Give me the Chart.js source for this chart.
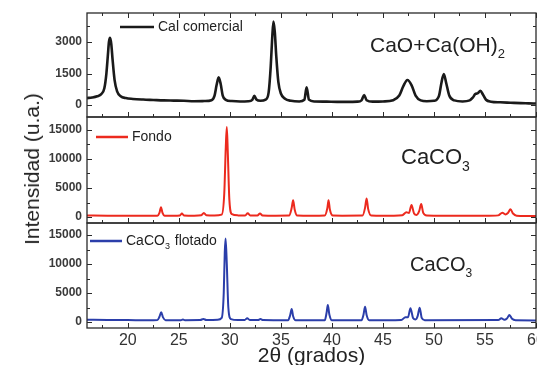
<!DOCTYPE html>
<html>
<head>
<meta charset="utf-8">
<script src="https://cdn.jsdelivr.net/npm/chart.js@4.4.1/dist/chart.umd.min.js"></script>
<style>
  html, body { margin: 0; padding: 0; background: #fff; }
  #wrap { position: relative; width: 537px; height: 365px; overflow: hidden; font-family: Arial, "Liberation Sans", sans-serif; }
  canvas { position: absolute; left: 0; }
  #ytitle { position: absolute; left: 32px; top: 169px; transform: translate(-50%, -50%) rotate(-90deg); font-size: 21px; color: #222; white-space: nowrap; }
</style>
</head>
<body>
<div id="wrap">
  <canvas id="c1" width="537" height="125" style="top:0px"></canvas>
  <canvas id="c2" width="537" height="120" style="top:110px"></canvas>
  <canvas id="c3" width="537" height="149" style="top:216px"></canvas>
  <div id="ytitle">Intensidad (u.a.)</div>
</div>
<script>
// 2θ (grados) vs intensidad, tres difractogramas
const calX = [16, 16.5, 17, 17.4, 17.7, 17.9, 18.05, 18.15, 18.26, 18.38, 18.5, 18.7, 18.95, 19.3, 19.8, 20.5, 21.5, 22.5, 23.5, 24.5, 25.5, 26.5, 27.5, 28.2, 28.5, 28.7, 28.9, 29.1, 29.3, 29.6, 30.2, 31, 31.8, 32.2, 32.4, 32.6, 33, 33.5, 33.8, 34.0, 34.15, 34.27, 34.4, 34.55, 34.75, 35.0, 35.4, 36, 36.8, 37.3, 37.52, 37.75, 38.3, 39.5, 40.5, 41.5, 42.5, 42.9, 43.16, 43.4, 44, 45, 46, 46.6, 47.0, 47.4, 47.8, 48.2, 48.7, 49.3, 50, 50.5, 50.75, 50.97, 51.2, 51.5, 52, 52.8, 53.5, 53.8, 54.05, 54.3, 54.55, 54.8, 55.1, 55.6, 56.5, 57.5, 58.5, 59.3, 60];
const calY = [330, 360, 420, 520, 800, 1500, 2400, 3000, 3200, 2900, 2200, 1200, 650, 420, 330, 290, 260, 240, 220, 210, 200, 180, 190, 230, 450, 950, 1320, 1000, 450, 250, 190, 170, 180, 250, 440, 260, 200, 260, 600, 1800, 3200, 3970, 3500, 2300, 1100, 550, 300, 200, 170, 250, 840, 260, 170, 160, 150, 150, 160, 220, 480, 230, 160, 170, 230, 450, 900, 1190, 950, 450, 220, 180, 200, 450, 1100, 1480, 1050, 450, 220, 170, 220, 350, 520, 560, 680, 500, 250, 160, 130, 110, 90, 80, 70];

const fondoX = [16, 18, 20, 22, 22.9, 23.1, 23.25, 23.4, 23.6, 24.5, 25.1, 25.3, 25.5, 26.5, 27.2, 27.45, 27.7, 28.5, 29.2, 29.45, 29.6, 29.7, 29.8, 29.95, 30.2, 30.8, 31.5, 31.75, 32.0, 32.7, 32.95, 33.2, 34.5, 35.8, 36.05, 36.2, 36.35, 36.6, 38, 39.3, 39.55, 39.67, 39.8, 40.1, 41, 43.0, 43.25, 43.4, 43.55, 43.85, 45, 46, 46.9, 47.3, 47.55, 47.8, 48.05, 48.3, 48.55, 48.75, 48.95, 49.3, 51, 53, 55, 56.3, 56.7, 57.0, 57.25, 57.5, 57.75, 58.1, 59, 60];
const fondoY = [250, 230, 220, 200, 220, 700, 1700, 700, 220, 210, 260, 600, 260, 220, 300, 700, 300, 250, 400, 4000, 12000, 15500, 11000, 3000, 500, 280, 260, 640, 280, 260, 600, 260, 220, 240, 1500, 2900, 1300, 250, 220, 250, 1500, 2900, 1300, 250, 230, 250, 1600, 3200, 1400, 250, 210, 220, 300, 800, 700, 2070, 600, 350, 1000, 2240, 700, 250, 220, 200, 200, 280, 740, 450, 700, 1330, 600, 220, 180, 170];

const flotX = [16, 18, 20, 22, 22.9, 23.1, 23.27, 23.45, 23.7, 25.2, 25.4, 25.6, 27.1, 27.4, 27.7, 28.8, 29.2, 29.4, 29.5, 29.58, 29.7, 29.85, 30.1, 30.8, 31.45, 31.7, 31.95, 32.75, 33.0, 33.25, 35.7, 35.9, 36.06, 36.2, 36.45, 39.3, 39.47, 39.6, 39.75, 40.0, 42.9, 43.1, 43.25, 43.4, 43.65, 46.8, 47.2, 47.45, 47.7, 47.95, 48.2, 48.4, 48.6, 48.8, 49.1, 56.3, 56.6, 56.9, 57.15, 57.4, 57.65, 58.0, 60];
const flotY = [380, 350, 330, 300, 330, 900, 1670, 800, 320, 320, 420, 320, 340, 520, 340, 380, 700, 5000, 12000, 14400, 10000, 2500, 500, 330, 350, 640, 340, 330, 520, 330, 300, 1100, 2240, 1000, 300, 300, 1500, 2930, 1300, 300, 300, 1300, 2640, 1200, 300, 350, 810, 800, 2360, 700, 450, 1000, 2470, 700, 300, 330, 640, 380, 600, 1210, 550, 300, 280];

const xTickLabels = [20, 25, 30, 35, 40, 45, 50, 55, 60];
const calTicks = [0, 1500, 3000];
const caco3Ticks = [0, 5000, 10000, 15000];

const FONT = 'Arial, "Liberation Sans", sans-serif';

function pts(xs, ys) { return xs.map((x, i) => ({ x: x, y: ys[i] })); }

// frame, inward ticks, legend line and the phase label
const panelDecor = {
  id: 'panelDecor',
  afterDraw(chart, args, o) {
    const ctx = chart.ctx, a = chart.chartArea, xs = chart.scales.x, ys = chart.scales.y;
    ctx.save();
    ctx.strokeStyle = '#2a2a2a';
    ctx.lineWidth = 1.3;
    ctx.strokeRect(a.left, a.top, a.right - a.left, a.bottom - a.top);
    ctx.lineWidth = 1;
    function seg(x1, y1, x2, y2) { ctx.beginPath(); ctx.moveTo(x1, y1); ctx.lineTo(x2, y2); ctx.stroke(); }
    for (let v = 17.5; v <= 60.01; v += 2.5) {
      const px = Math.round(xs.getPixelForValue(v)) + 0.5;
      const len = Math.abs(v % 5) < 1e-6 ? 5 : 3;
      seg(px, a.bottom, px, a.bottom - len);
      if (o.topTicks) seg(px, a.top, px, a.top + len);
    }
    for (let v = Math.ceil(ys.min / o.yMinor) * o.yMinor; v <= ys.max; v += o.yMinor) {
      const py = Math.round(ys.getPixelForValue(v)) + 0.5;
      const len = Math.abs(v % o.yMajor) < 1e-6 ? 5 : 3;
      seg(a.left, py, a.left + len, py);
      seg(a.right, py, a.right - len, py);
    }
    // legend
    const ds = chart.data.datasets[0];
    ctx.strokeStyle = ds.borderColor;
    ctx.lineWidth = 2.5;
    seg(o.legend.x1, o.legend.y, o.legend.x2, o.legend.y);
    ctx.fillStyle = '#222';
    ctx.textBaseline = 'middle';
    drawParts(ctx, o.legend.parts, o.legend.x2 + 4, o.legend.y, 14);
    drawParts(ctx, o.note.parts, o.note.x, o.note.y, o.note.size);
    ctx.restore();
  }
};

function drawParts(ctx, parts, x, y, size) {
  parts.forEach(p => {
    const s = p.sub ? Math.round(size * 0.62) : size;
    ctx.font = s + 'px ' + FONT;
    ctx.fillText(p.t, x, p.sub ? y + size * 0.42 : y);
    x += ctx.measureText(p.t).width + (p.sub ? 1 : 0);
  });
}

function makePanel(id, opt) {
  return new Chart(document.getElementById(id), {
    type: 'line',
    data: {
      datasets: [{
        label: opt.label,
        data: opt.data,
        borderColor: opt.color,
        borderWidth: opt.width,
        pointRadius: 0,
        cubicInterpolationMode: 'monotone',
        fill: false
      }]
    },
    options: {
      responsive: false,
      animation: false,
      layout: { padding: opt.padding },
      plugins: {
        legend: { display: false },
        tooltip: { enabled: false },
        panelDecor: opt.decor
      },
      scales: {
        x: {
          type: 'linear',
          min: 16,
          max: 60,
          display: opt.showX,
          grid: { display: false, drawTicks: false },
          border: { display: false },
          afterBuildTicks: s => { s.ticks = xTickLabels.map(v => ({ value: v })); },
          ticks: {
            autoSkip: false,
            maxRotation: 0,
            padding: 3,
            color: '#333',
            font: { size: 16, family: FONT },
            callback: v => v
          },
          title: {
            display: true,
            text: '2θ (grados)',
            color: '#222',
            padding: { top: 0, bottom: -2 },
            font: { size: 21, lineHeight: 1, family: FONT }
          },
          afterFit: s => { if (opt.showX) s.height = 37; s.paddingLeft = 0; s.paddingRight = 0; }
        },
        y: {
          min: opt.yMin,
          max: opt.yMax,
          grid: { display: false, drawTicks: false },
          border: { display: false },
          afterBuildTicks: s => { s.ticks = opt.yTicks.map(v => ({ value: v })); },
          ticks: {
            autoSkip: false,
            padding: 5,
            color: '#3a3a3a',
            font: { size: 12, weight: 'bold', family: FONT },
            callback: v => v
          },
          afterFit: s => { s.width = 87; s.paddingTop = 0; s.paddingBottom = 0; }
        }
      }
    },
    plugins: [panelDecor]
  });
}

makePanel('c1', {
  label: 'Cal comercial', data: pts(calX, calY), color: '#1a1a1a', width: 2.6,
  yMin: -570, yMax: 4380, yTicks: calTicks, showX: false,
  padding: { left: 0, right: 1, top: 13, bottom: 8 },
  decor: {
    topTicks: true, yMajor: 1500, yMinor: 750,
    legend: { x1: 120, x2: 154, y: 27, parts: [{ t: 'Cal comercial' }] },
    note: { x: 370, y: 46, size: 21, parts: [{ t: 'CaO+Ca(OH)' }, { t: '2', sub: true }] }
  }
});

makePanel('c2', {
  label: 'Fondo', data: pts(fondoX, fondoY), color: '#ec2a1e', width: 2,
  yMin: -1034, yMax: 17240, yTicks: caco3Ticks, showX: false,
  padding: { left: 0, right: 1, top: 7, bottom: 7 },
  decor: {
    topTicks: false, yMajor: 5000, yMinor: 2500,
    legend: { x1: 96, x2: 128, y: 27, parts: [{ t: 'Fondo' }] },
    note: { x: 401, y: 48, size: 22, parts: [{ t: 'CaCO' }, { t: '3', sub: true }] }
  }
});

makePanel('c3', {
  label: 'CaCO₃ flotado', data: pts(flotX, flotY), color: '#2b3eaa', width: 2,
  yMin: -1034, yMax: 17070, yTicks: caco3Ticks, showX: true,
  padding: { left: 0, right: 1, top: 7, bottom: 0 },
  decor: {
    topTicks: false, yMajor: 5000, yMinor: 2500,
    legend: { x1: 90, x2: 122, y: 25, parts: [{ t: 'CaCO' }, { t: '3', sub: true }, { t: ' flotado' }] },
    note: { x: 410, y: 49, size: 20, parts: [{ t: 'CaCO' }, { t: '3', sub: true }] }
  }
});
</script>
</body>
</html>
